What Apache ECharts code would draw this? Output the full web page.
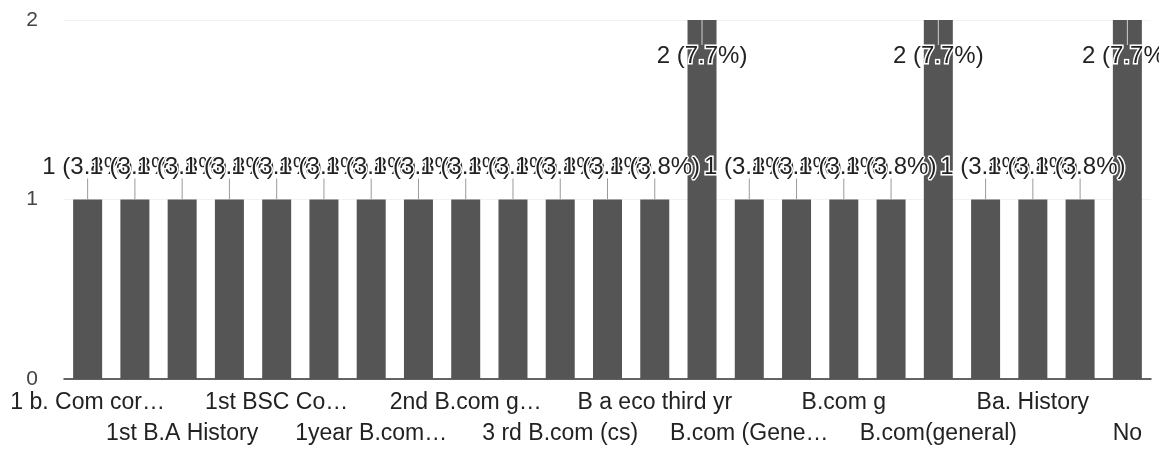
<!DOCTYPE html>
<html>
<head>
<meta charset="utf-8">
<script src="https://cdn.jsdelivr.net/npm/echarts@6/dist/echarts.min.js"></script>
<style>
html,body{margin:0;padding:0;background:#fff;}
#chart{width:1159px;height:459px;}
</style>
</head>
<body>
<div id="chart"></div>
<script>
// Category names (even ones as shown on the axis; odd ones are hidden by the axis label interval)
const categories = [
  "1 b. Com cor…", "1st B.A", "1st B.A History", "1st B.com", "1st BSC Co…",
  "1st year B.com", "1year B.com…", "2nd B.A", "2nd B.com g…", "3 rd B.A",
  "3 rd B.com (cs)", "B.A History", "B a eco third yr", "B.com", "B.com (Gene…",
  "B.com (CS)", "B.com g", "B.com general", "B.com(general)", "BA",
  "Ba. History", "Ba. history", "No"
];
// Response counts per category
const counts = [1,1,1,1,1,1,1,1,1,1,1,1,1,2,1,1,1,1,2,1,1,1,2];
// Y axis ticks
const yTicks = [0, 1, 2];

const total = counts.reduce((a, b) => a + b, 0);
const maxCount = Math.max(...counts);
const FONT = "'Liberation Sans', Arial, sans-serif";

const data = counts.map(v => {
  const item = { value: v };
  if (v === maxCount) item.label = { position: 'insideTop', distance: 0 };
  return item;
});

function labelAxis(showIdx, margin, withLine) {
  return {
    type: 'category',
    position: 'bottom',
    data: categories,
    axisTick: { show: false },
    axisLine: { show: withLine, lineStyle: { color: '#333', width: 1.5 } },
    splitLine: { show: false },
    axisLabel: {
      interval: (i) => i % 4 === showIdx,
      hideOverlap: false,
      fontSize: 23,
      fontFamily: FONT,
      color: '#222',
      lineHeight: 31,
      margin: margin
    }
  };
}

const chart = echarts.init(document.getElementById('chart'), null, { renderer: 'canvas' });
chart.setOption({
  animation: false,
  backgroundColor: '#fff',
  grid: { left: 64, right: 8, top: 20, bottom: 80, containLabel: false },
  xAxis: [labelAxis(0, 8, true), labelAxis(2, 39, false)],
  yAxis: {
    type: 'value',
    min: yTicks[0],
    max: yTicks[yTicks.length - 1],
    interval: yTicks[1] - yTicks[0],
    axisLine: { show: false },
    axisTick: { show: false },
    splitLine: { lineStyle: { color: '#f2f2f2' } },
    axisLabel: { fontSize: 21, fontFamily: FONT, color: '#444', margin: 26 }
  },
  series: [{
    type: 'bar',
    xAxisIndex: 0,
    data: data,
    barWidth: 29,
    itemStyle: { color: '#555' },
    label: {
      show: true,
      position: 'top',
      distance: 0,
      formatter: p => {
        const pct = (p.value / total * 100).toFixed(1);
        const t = p.value + ' (' + pct + '%)';
        return p.value === maxCount ? '{s2|}\n{t|' + t + '}' : '{t|' + t + '}\n{s|}';
      },
      rich: {
        t: { fontSize: 24, fontFamily: FONT, color: '#222', textBorderColor: '#fff', textBorderWidth: 3, lineHeight: 22 },
        s: { width: 1, height: 21, backgroundColor: '#9a9a9a' },
        s2: { width: 1, height: 25, backgroundColor: '#d0d0d0' }
      }
    }
  }]
});
</script>
</body>
</html>
